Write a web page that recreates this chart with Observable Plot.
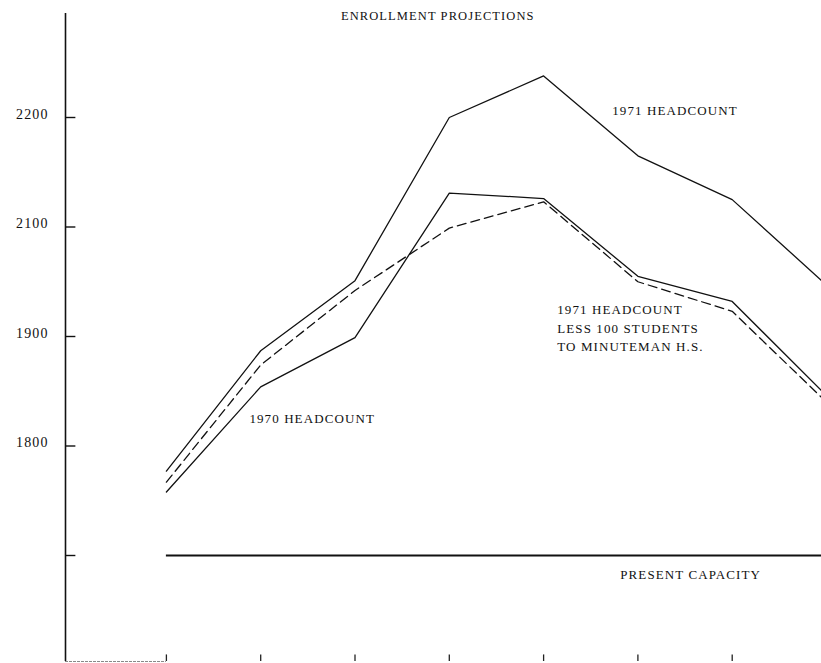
<!DOCTYPE html>
<html>
<head>
<meta charset="utf-8">
<script src="https://cdn.jsdelivr.net/npm/d3@7"></script>
<script src="https://cdn.jsdelivr.net/npm/@observablehq/plot@0.6"></script>
<style>
  html, body { margin: 0; padding: 0; background: #fff; overflow: hidden; }
</style>
</head>
<body>
<div id="chart"></div>
<script>
// ---- data ----
const periods = [1, 2, 3, 4, 5, 6, 7, 8];
const headcount1971 = [1877, 1987, 2051, 2200, 2238, 2165, 2125, 2047];
const headcount1970 = [1858, 1954, 1999, 2131, 2126, 2055, 2032, 1946];
const headcount1971Less100 = [1867, 1974, 2042, 2099, 2123, 2050, 2023, 1940];
const presentCapacity = 1800;

const yTicks = [2200, 2100, 2000, 1900, 1800];
const yTickLabels = ["2200", "2100", "1900", "1800", ""];

const title = "ENROLLMENT PROJECTIONS";
const annotations = [
  {x: 5.728, y: 2208, text: "1971 HEADCOUNT"},
  {x: 5.145, y: 2009, text: "1971 HEADCOUNT\nLESS 100 STUDENTS\nTO MINUTEMAN H.S."},
  {x: 1.880, y: 1926, text: "1970 HEADCOUNT"},
  {x: 5.813, y: 1784, text: "PRESENT CAPACITY"}
];

// ---- build tidy table ----
const series = [
  {name: "1971", values: headcount1971, dash: null},
  {name: "1970", values: headcount1970, dash: null},
  {name: "1971less100", values: headcount1971Less100, dash: "9,5"}
];

const xMin = -0.07, xMax = 8;
const yMin = 1703.2, yTop = 2295;

const lineMarks = series.map(s =>
  Plot.line(periods.map((p, i) => ({period: p, value: s.values[i]})), {
    x: "period", y: "value", stroke: "#111", strokeWidth: 1.3,
    strokeDasharray: s.dash ?? undefined
  })
);

const chart = Plot.plot({
  width: 821,
  height: 663,
  marginLeft: 65,
  marginRight: 0,
  marginTop: 0,
  marginBottom: 2,
  x: {domain: [xMin, xMax], range: [65, 826], axis: null},
  y: {domain: [1700, 2300], range: [664.5, 7.5], axis: null},
  style: {
    background: "#fff",
    fontFamily: "'Liberation Serif', 'DejaVu Serif', serif",
    letterSpacing: "1.1px",
    color: "#111"
  },
  marks: [
    // left axis line
    Plot.ruleX([xMin], {y1: yMin, y2: yTop, stroke: "#111", strokeWidth: 1.6}),
    // left axis ticks (pointing inward)
    Plot.ruleY(yTicks, {x1: xMin, x2: xMin + 0.11, stroke: "#111", strokeWidth: 1.4}),
    Plot.axisY(yTicks, {
      anchor: "left", tickSize: 0, tickPadding: 17, dy: -3, fontSize: 14, fill: "#111",
      tickFormat: d => yTickLabels[yTicks.indexOf(d)]
    }),
    // bottom axis fragment and ticks
    Plot.ruleY([yMin], {x1: xMin, x2: 1, stroke: "#888", strokeWidth: 1, strokeDasharray: "3,1"}),
    Plot.ruleX(periods, {y1: yMin, y2: yMin + 6, stroke: "#222", strokeWidth: 1.3}),
    // present capacity
    Plot.ruleY([presentCapacity], {x1: 1, x2: xMax, stroke: "#111", strokeWidth: 1.8}),
    ...lineMarks,
    // title and annotations
    Plot.text([title], {x: 3.878, y: 2293, text: d => d, fontSize: 12.5, textAnchor: "middle", fill: "#111"}),
    Plot.text(annotations, {x: "x", y: "y", text: "text", fontSize: 13, textAnchor: "start", lineHeight: 1.42, fill: "#111"})
  ]
});

document.getElementById("chart").appendChild(chart);
</script>
</body>
</html>
